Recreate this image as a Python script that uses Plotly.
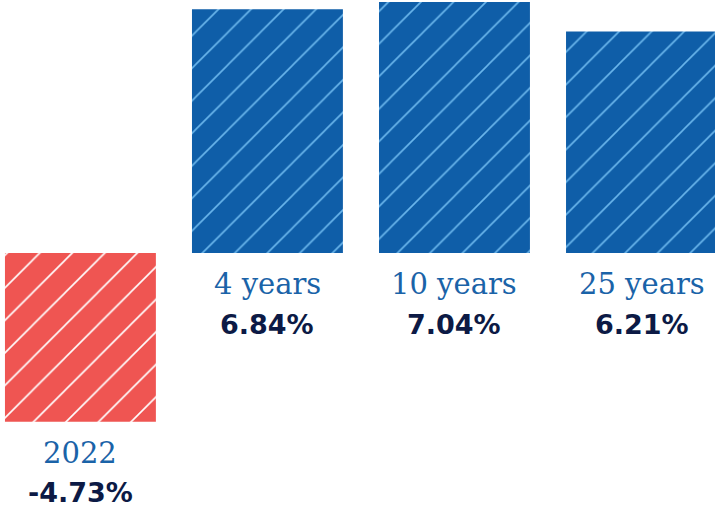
import plotly.graph_objects as go

categories = ["2022", "4 years", "10 years", "25 years"]
values = [-4.73, 6.84, 7.04, 6.21]
value_labels = ["-4.73%", "6.84%", "7.04%", "6.21%"]

bar_colors = ["#ef5552", "#0f5ea8", "#0f5ea8", "#0f5ea8"]
hatch_colors = ["#ffffff", "#6ab6ec", "#6ab6ec", "#6ab6ec"]

x_idx = list(range(len(categories)))

fig = go.Figure()
for i, v in enumerate(values):
    fig.add_trace(go.Bar(
        x=[x_idx[i]],
        y=[v],
        width=0.807,
        marker=dict(
            color=bar_colors[i],
            line=dict(width=0),
            pattern=dict(shape="/", size=23, solidity=0.07, fgcolor=hatch_colors[i],
                         fgopacity=1, fillmode="overlay"),
        ),
        hoverinfo="skip",
    ))

annotations = []
for i, (cat, v, lab) in enumerate(zip(categories, values, value_labels)):
    base = min(v, 0)
    annotations.append(dict(
        x=i, y=base, xref="x", yref="y", text=cat, showarrow=False,
        yanchor="middle", xanchor="center", yshift=-31,
        font=dict(family="DejaVu Serif", size=29, color="#1a63a8"),
    ))
    annotations.append(dict(
        x=i, y=base, xref="x", yref="y", text="<b>" + lab + "</b>", showarrow=False,
        yanchor="middle", xanchor="center", yshift=-71,
        font=dict(family="DejaVu Sans", size=27, color="#0c1a45"),
    ))

fig.update_layout(
    width=715, height=510, autosize=False,
    margin=dict(l=0, r=0, t=0, b=0, pad=0),
    paper_bgcolor="white", plot_bgcolor="white",
    showlegend=False, barmode="overlay",
    xaxis=dict(range=[-0.430, 3.393], visible=False, fixedrange=True),
    yaxis=dict(range=[-7.209, 7.097], visible=False, fixedrange=True),
    annotations=annotations,
)

fig.write_html("out.html", config={"displayModeBar": False},
               post_script="document.body.style.margin='0px';document.body.style.overflow='hidden';")
